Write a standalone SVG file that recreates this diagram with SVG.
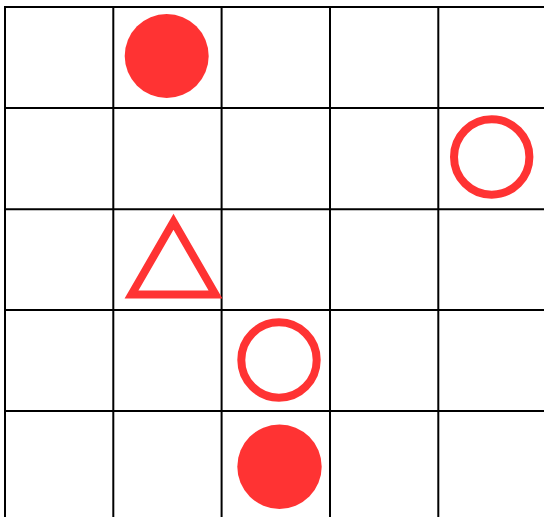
<svg xmlns="http://www.w3.org/2000/svg" width="544" height="517" viewBox="0 0 544 517">
<style>
.grid line{stroke:#000;stroke-width:2}
.fill{fill:#FF3333}
.ring{fill:none;stroke:#FF3333;stroke-width:8}
</style>
<rect width="544" height="517" fill="#fff"/>
<g id="grid" class="grid">
<line x1="5" y1="7" x2="5" y2="517"/>
<line x1="113.3" y1="7" x2="113.3" y2="517"/>
<line x1="221.6" y1="7" x2="221.6" y2="517"/>
<line x1="330" y1="7" x2="330" y2="517"/>
<line x1="438.3" y1="7" x2="438.3" y2="517"/>
<line x1="4" y1="7" x2="544" y2="7"/>
<line x1="4" y1="108" x2="544" y2="108"/>
<line x1="4" y1="209.3" x2="544" y2="209.3"/>
<line x1="4" y1="310" x2="544" y2="310"/>
<line x1="4" y1="411" x2="544" y2="411"/>
</g>
<g id="dot1"><circle class="fill" cx="166.7" cy="56" r="42"/></g>
<g id="ring1"><circle class="ring" cx="491.7" cy="157" r="37.7"/></g>
<g id="tri1"><polygon class="ring" points="131.5,294.5 215.5,294.5 173.5,221.8"/></g>
<g id="ring2"><circle class="ring" cx="279" cy="360" r="37.7"/></g>
<g id="dot2"><circle class="fill" cx="279.5" cy="466.7" r="42.2"/></g>
</svg>
